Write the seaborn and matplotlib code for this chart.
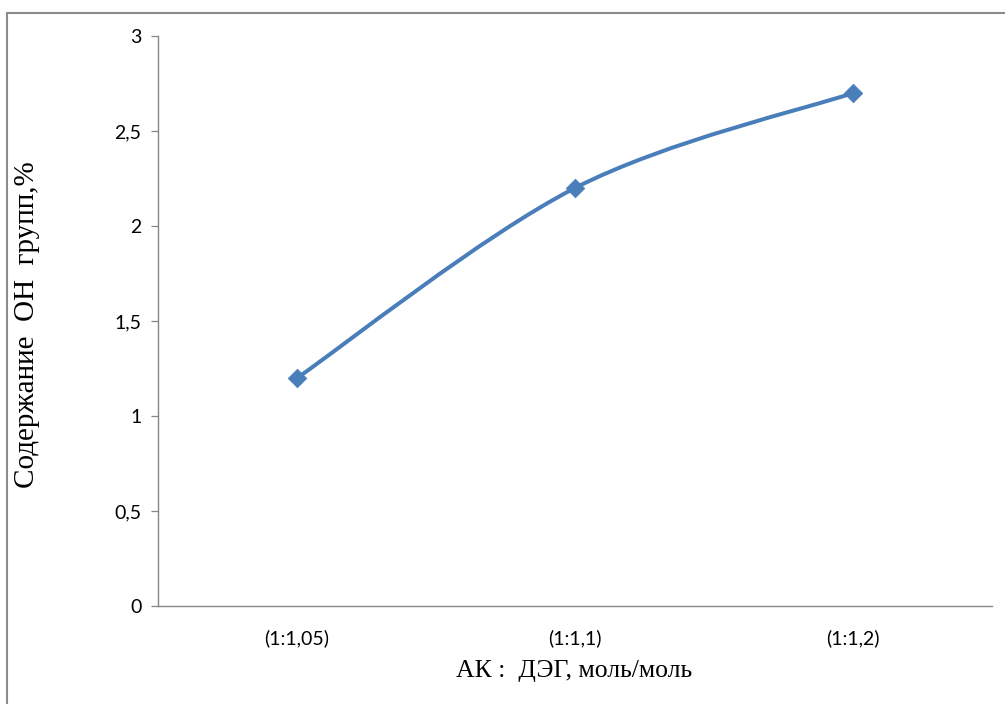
import numpy as np
import pandas as pd
import matplotlib
matplotlib.use("Agg")
import matplotlib.pyplot as plt
import seaborn as sns
from matplotlib.path import Path
from matplotlib.patches import PathPatch, Rectangle

categories = ["(1:1,05)", "(1:1,1)", "(1:1,2)"]
oh_content = [1.2, 2.2, 2.7]
y_ticks = [0, 0.5, 1, 1.5, 2, 2.5, 3]
y_tick_labels = ["0", "0,5", "1", "1,5", "2", "2,5", "3"]

sns.set_theme(style="white")
plt.rcParams["font.family"] = ["Lato", "DejaVu Sans"]

W, H = 1005, 704
fig = plt.figure(figsize=(W / 100, H / 100), dpi=100)
ax = fig.add_axes([158 / W, 1 - 606 / H, (992 - 158) / W, (606 - 36) / H])

line_color = "#4A7EBB"
df = pd.DataFrame({"x": np.arange(len(categories)), "y": oh_content})

# Smoothed line (Excel-style Bezier through the data points)
xs = df["x"].to_numpy(dtype=float)
ys = df["y"].to_numpy(dtype=float)
pts = np.column_stack([xs, ys])
n = len(pts)
verts = [tuple(pts[0])]
codes = [Path.MOVETO]
for i in range(n - 1):
    p0 = pts[i - 1] if i > 0 else pts[i]
    p1 = pts[i]
    p2 = pts[i + 1]
    p3 = pts[i + 2] if i + 2 < n else pts[i + 1]
    c1 = p1 + (p2 - p0) / 6.0
    c2 = p2 - (p3 - p1) / 6.0
    verts += [tuple(c1), tuple(c2), tuple(p2)]
    codes += [Path.CURVE4] * 3
ax.add_patch(PathPatch(Path(verts, codes), facecolor="none", edgecolor=line_color,
                       lw=2.9, capstyle="round", zorder=2))

sns.scatterplot(data=df, x="x", y="y", marker="D", s=90, color=line_color,
                edgecolor=line_color, linewidth=0.5, ax=ax, zorder=3, legend=False)

ax.set_xlim(-0.5, 2.5)
ax.set_ylim(0, 3)
ax.set_xticks(range(len(categories)))
ax.set_xticklabels(categories, fontsize=14, color="#000000")
ax.set_yticks(y_ticks)
ax.set_yticklabels(y_tick_labels, fontsize=14, color="#000000")
ax.tick_params(axis="y", length=5, width=0.9, color="#868686", pad=7, left=True)
ax.tick_params(axis="x", length=0, pad=17)
for s in ["top", "right"]:
    ax.spines[s].set_visible(False)
for s in ["left", "bottom"]:
    ax.spines[s].set_color("#868686")
    ax.spines[s].set_linewidth(1.0)
ax.set_xlabel("")
ax.set_ylabel("")

# Axis titles
serif = ["Liberation Serif", "DejaVu Serif"]
fig.text(27 / W, 1 - 325 / H, "Содержание  ОН  групп,%", rotation=90, ha="center", va="center",
         fontsize=21, family=serif, color="#000000")
fig.text(574 / W, 1 - 677 / H, "АК :  ДЭГ, моль/моль", ha="center", va="baseline",
         fontsize=18.5, family=serif, color="#000000")

# Chart area border
fig.patches.append(Rectangle((7 / W, -0.05), 1.2, 1 - 13 / H + 0.05, transform=fig.transFigure,
                             fill=False, edgecolor="#8C8C8C", lw=1.5))

fig.savefig("out.png", dpi=100)
